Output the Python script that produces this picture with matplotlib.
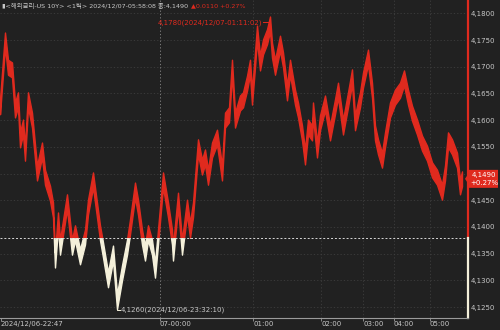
import numpy as np
import matplotlib
matplotlib.use("Agg")
import matplotlib.pyplot as plt
from matplotlib.patches import Rectangle, Polygon

plt.rcParams['font.family'] = ['DejaVu Sans', 'Noto Sans CJK KR']

# ---------------- data ----------------
tick_idx = [0, 5, 8, 12, 15, 18, 20, 23, 25, 28, 32, 37, 42, 45, 50, 53, 55, 58, 60, 67,
            72, 75, 80, 85, 88, 93, 100, 103, 108, 113, 117, 122, 127, 130, 135, 138, 142, 145, 148, 152,
            155, 158, 163, 168, 172, 173, 178, 182, 187, 190, 193, 198, 202, 205, 208, 212, 217, 222, 225, 229,
            232, 235, 240, 243, 247, 250, 252, 255, 257, 260, 263, 267, 270, 272, 275, 280, 283, 287, 290, 295,
            298, 302, 305, 308, 312, 313, 317, 320, 325, 330, 335, 338, 343, 348, 352, 355, 360, 363, 368, 372,
            375, 378, 382, 385, 390, 395, 400, 404, 408, 412, 417, 422, 427, 432, 437, 442, 445, 448, 452, 457,
            460, 462]
price = [4.1625, 4.1750, 4.1699, 4.1694, 4.1619, 4.1638, 4.1563, 4.1587, 4.1538, 4.1638,
         4.1600, 4.1501, 4.1544, 4.1493, 4.1463, 4.1432, 4.1338, 4.1413, 4.1362, 4.1447,
         4.1362, 4.1389, 4.1344, 4.1381, 4.1437, 4.1488, 4.1389, 4.1357, 4.1301, 4.1351,
         4.1260, 4.1314, 4.1362, 4.1400, 4.1469, 4.1437, 4.1381, 4.1351, 4.1389, 4.1362,
         4.1319, 4.1381, 4.1488, 4.1432, 4.1381, 4.1351, 4.1450, 4.1362, 4.1437, 4.1394,
         4.1432, 4.1550, 4.1512, 4.1531, 4.1493, 4.1544, 4.1568, 4.1501, 4.1600, 4.1610,
         4.1699, 4.1600, 4.1632, 4.1638, 4.1669, 4.1699, 4.1643, 4.1713, 4.1763, 4.1707,
         4.1737, 4.1756, 4.1780, 4.1731, 4.1699, 4.1744, 4.1713, 4.1651, 4.1699, 4.1643,
         4.1619, 4.1576, 4.1531, 4.1587, 4.1576, 4.1619, 4.1544, 4.1595, 4.1632, 4.1576,
         4.1625, 4.1656, 4.1587, 4.1638, 4.1681, 4.1595, 4.1638, 4.1675, 4.1718, 4.1656,
         4.1576, 4.1550, 4.1525, 4.1563, 4.1619, 4.1643, 4.1656, 4.1679, 4.1643, 4.1613,
         4.1587, 4.1557, 4.1538, 4.1507, 4.1493, 4.1465, 4.1501, 4.1563, 4.1550, 4.1525,
         4.1475, 4.1490]
prev_close = 4.1380
last_price = 4.1490
change = 0.0110
change_pct = 0.27
y_ticks = [4.1250, 4.1300, 4.1350, 4.1400, 4.1450, 4.1550, 4.1600, 4.1650, 4.1700, 4.1750, 4.1800]
grid_levels = [4.1250, 4.1300, 4.1350, 4.1400, 4.1450, 4.1500, 4.1550, 4.1600, 4.1650, 4.1700, 4.1750, 4.1800]
x_tick_pos = [1, 160, 253, 321, 363, 394, 430]
x_tick_labels = ["2024/12/06-22:47", "07-00:00", "01:00", "02:00", "03:00", "04:00", "05:00"]
max_label = "4,1780(2024/12/07-01:11:02)"
min_label = "4,1260(2024/12/06-23:32:10)"
header_main = "▮<해외금리-US 10Y> <1틱> 2024/12/07-05:58:08 종:4,1490"
header_chg = "▲0.0110 +0.27%"

# ---------------- style ----------------
BG = '#212121'
RED = '#e02a1e'
CREAM = '#f4f0da'
GRID = '#3e3e3e'
TXT = '#c8c8c8'
FS = 5.0

W, H = 500, 330
fig = plt.figure(figsize=(W / 100, H / 100), dpi=100)
fig.patch.set_facecolor(BG)
ax = fig.add_axes([0, 12 / H, 468 / W, 318 / H])
ax.set_facecolor(BG)
ppu = 5340.0
ax.set_xlim(0, 468)
ax.set_ylim(4.18 - (318 - 13.3) / ppu, 4.18 + 13.3 / ppu)
for s in ax.spines.values():
    s.set_visible(False)

# grid
for v in grid_levels:
    ax.axhline(v, color=GRID, lw=0.6, ls=(0, (1.5, 2.5)), zorder=0)
for i, xp in enumerate(x_tick_pos[1:]):
    col = '#8a8a8a' if i == 0 else GRID
    ax.axvline(xp, color=col, lw=0.6, ls=(0, (1.5, 2.5)), zorder=0)

# price band
x = np.array(tick_idx, dtype=float)
p = np.array(price)
hw = 0.0014
lo, hi = p - hw, p + hw
red_band = ax.fill_between(x, lo, hi, color=RED, lw=1.0, edgecolor=RED, zorder=2)
red_band.set_clip_path(Rectangle((0, prev_close), 470, 1, transform=ax.transData))
cream_band = ax.fill_between(x, lo, hi, color=CREAM, lw=1.0, edgecolor=CREAM, zorder=2)
cream_band.set_clip_path(Rectangle((0, prev_close - 1), 470, 1, transform=ax.transData))

# baseline
ax.axhline(prev_close, color='#d8d8d8', lw=0.7, ls=(0, (2, 2)), zorder=3)

# right border red above / cream below baseline
ax.plot([468, 468], [prev_close, ax.get_ylim()[1]], color=RED, lw=1.6, clip_on=False, zorder=4)
ax.plot([468, 468], [ax.get_ylim()[0], prev_close], color=CREAM, lw=1.6, clip_on=False, zorder=4)
# bottom border
ax.axhline(ax.get_ylim()[0], color='#9a9a9a', lw=0.8, clip_on=False, zorder=4)

# y ticks on right
ax.yaxis.tick_right()
ax.set_yticks(y_ticks)
ax.set_yticklabels([f"{v:.4f}".replace('.', ',') for v in y_ticks])
ax.tick_params(axis='y', length=0, pad=2, labelsize=FS, labelcolor=TXT)

# x ticks
ax.set_xticks(x_tick_pos)
ax.set_xticklabels(x_tick_labels, ha='left')
ax.tick_params(axis='x', length=2, width=0.6, color='#9a9a9a', pad=0.3, labelsize=FS, labelcolor=TXT)

# max / min annotations
imax = int(np.argmax(p)); imin = int(np.argmin(p))
xm, ym = x[imax], p[imax]
ax.plot([xm - 7, xm, xm], [ym + 0.0003, ym + 0.0003, ym - 0.0005], color=RED, lw=0.7, zorder=5)
ax.text(xm - 7.5, ym + 0.0003, max_label, color=RED, fontsize=FS, ha='right', va='center', zorder=5)
xn, yn = x[imin], p[imin]
ax.plot([xn, xn, xn + 3], [yn - 0.0008, yn - 0.0015, yn - 0.0015], color=CREAM, lw=0.7, zorder=5)
ax.text(xn + 3.5, yn - 0.0015, min_label, color=TXT, fontsize=FS, ha='left', va='center', zorder=5)

# header: main part then red change part right after it
renderer = fig.canvas.get_renderer()
t_main = fig.text(2 / W, 1 - 6 / H, header_main, color=TXT, fontsize=FS, ha='left', va='center')
wpx = t_main.get_window_extent(renderer).width
if wpx > 180:
    t_main.set_fontsize(max(4.6, FS * 176.0 / wpx))
    wpx = t_main.get_window_extent(renderer).width
t_chg = fig.text((2 + wpx + 3) / W, 1 - 6 / H, header_chg, color=RED, fontsize=t_main.get_fontsize(),
                 ha='left', va='center')

# last price box
yb = ax.transData.transform((0, last_price))[1]
yc = H - yb
px = lambda a, b: (a / W, 1 - b / H)
box = Polygon([px(465, yc), px(469, yc - 6), px(469, yc - 9), px(498, yc - 9),
               px(498, yc + 9), px(469, yc + 9), px(469, yc + 6)],
              closed=True, transform=fig.transFigure, facecolor=RED, edgecolor='none', zorder=6)
fig.patches.append(box)
fig.text(484 / W, 1 - (yc - 3.8) / H, f"{last_price:.4f}".replace('.', ','), color='white',
         fontsize=FS, ha='center', va='center', zorder=7)
fig.text(484 / W, 1 - (yc + 4.2) / H, f"+{change_pct:.2f}%", color='white',
         fontsize=FS, ha='center', va='center', zorder=7)

fig.savefig("out.png", dpi=100, facecolor=BG)
